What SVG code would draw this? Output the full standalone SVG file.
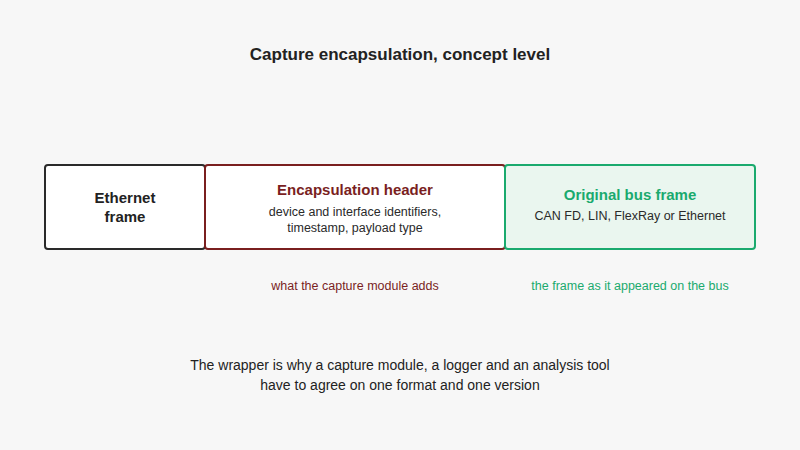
<svg xmlns="http://www.w3.org/2000/svg" width="800" height="450" viewBox="0 0 800 450">
<style>
text{font-family:"Liberation Sans",Arial,sans-serif;text-anchor:middle}
.t{font-size:15px;font-weight:bold}
.s{font-size:12.5px;fill:#2a2a2a}
.n{font-size:14px;fill:#222}
</style>
<rect width="800" height="450" fill="#f7f7f7"/>
<text x="400" y="60" font-size="17" font-weight="bold" fill="#222">Capture encapsulation, concept level</text>
<g id="ethernet">
<rect x="45" y="165" width="160" height="84" rx="3" fill="#fff" stroke="#2a2a2a" stroke-width="2"/>
<text class="t" x="125" y="203" fill="#222">Ethernet</text>
<text class="t" x="125" y="222" fill="#222">frame</text>
</g>
<g id="header">
<rect x="205" y="165" width="300" height="84" rx="3" fill="#fff" stroke="#7a1f1f" stroke-width="2"/>
<text class="t" x="355" y="195" fill="#7a1f1f">Encapsulation header</text>
<text class="s" x="355" y="216">device and interface identifiers,</text>
<text class="s" x="355" y="232">timestamp, payload type</text>
</g>
<g id="busframe">
<rect x="505" y="165" width="250" height="84" rx="3" fill="#eaf6ef" stroke="#1aaa6e" stroke-width="2"/>
<text class="t" x="630" y="200" fill="#1aaa6e">Original bus frame</text>
<text class="s" x="630" y="220">CAN FD, LIN, FlexRay or Ethernet</text>
</g>
<g id="connectors"></g>
<text x="355" y="290" font-size="12.5" fill="#7a1f1f">what the capture module adds</text>
<text x="630" y="290" font-size="12.5" fill="#1aaa6e">the frame as it appeared on the bus</text>
<text class="n" x="400" y="370">The wrapper is why a capture module, a logger and an analysis tool</text>
<text class="n" x="400" y="390">have to agree on one format and one version</text>
</svg>
